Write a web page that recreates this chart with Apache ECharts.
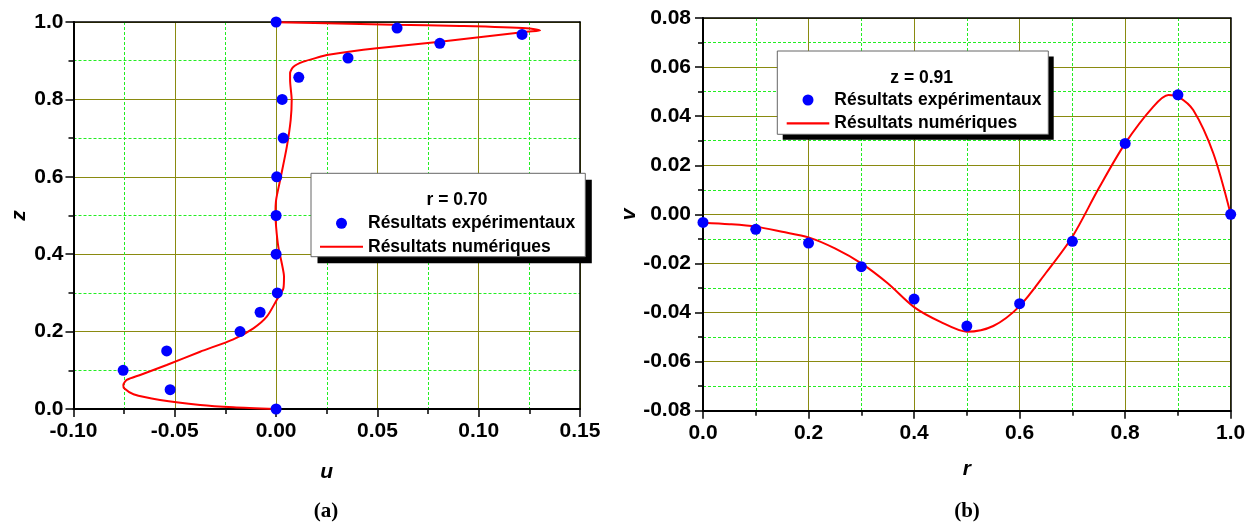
<!DOCTYPE html>
<html>
<head>
<meta charset="utf-8">
<script src="https://cdn.jsdelivr.net/npm/echarts@6/dist/echarts.min.js"></script>
<style>
html,body{margin:0;padding:0;background:#fff;}
#chart{width:1256px;height:527px;}
</style>
</head>
<body>
<div id="chart"></div>
<script>
// ---------- Panel (a): u vs z at r = 0.70 ----------
const uTicks = [-0.10, -0.05, 0.00, 0.05, 0.10, 0.15];
const zTicks = [0.0, 0.2, 0.4, 0.6, 0.8, 1.0];
const expU = [0, -0.0523, -0.0755, -0.054, -0.0178, -0.0079, 0.0006, 0, 0, 0.0003, 0.0035, 0.003, 0.0112, 0.0355, 0.0808, 0.1214, 0.0597, 0];
const expZ = [0, 0.05, 0.10, 0.15, 0.20, 0.25, 0.30, 0.40, 0.50, 0.60, 0.70, 0.80, 0.857, 0.907, 0.945, 0.968, 0.9845, 1.0];
const numU = [0, -0.0211, -0.0375, -0.0573, -0.0704, -0.075, -0.0754, -0.0737, -0.0671, -0.054, -0.0375, -0.0211, -0.0112, -0.0046, 0.0003, 0.0036, 0.0039, 0.0028, 0.0011, 0, -0.0003, 0, 0.002, 0.0053, 0.0072, 0.0077, 0.0069, 0.0069, 0.0086, 0.0135, 0.0217, 0.025, 0.0497, 0.0809, 0.1237, 0.1303, 0.1237, 0.0908, 0.0579, 0.025, 0.0003, 0];
const numZ = [0, 0.0043, 0.0103, 0.0233, 0.038, 0.0534, 0.062, 0.075, 0.0879, 0.1137, 0.148, 0.18, 0.2085, 0.2385, 0.2817, 0.312, 0.342, 0.3765, 0.419, 0.471, 0.5057, 0.54, 0.5917, 0.678, 0.7468, 0.7984, 0.85, 0.8674, 0.8846, 0.8975, 0.910, 0.915, 0.932, 0.949, 0.975, 0.978, 0.984, 0.9897, 0.993, 0.9966, 0.9992, 1.0];

// ---------- Panel (b): r vs v at z = 0.91 ----------
const rTicks = [0.0, 0.2, 0.4, 0.6, 0.8, 1.0];
const vTicks = [-0.08, -0.06, -0.04, -0.02, 0.00, 0.02, 0.04, 0.06, 0.08];
const expR = [0, 0.1, 0.2, 0.3, 0.4, 0.5, 0.6, 0.7, 0.8, 0.9, 1.0];
const expV = [-0.0033, -0.0061, -0.0117, -0.0213, -0.0345, -0.0455, -0.0364, -0.011, 0.0289, 0.0487, 0];
const numR = [0, 0.05, 0.1, 0.15, 0.2, 0.25, 0.3, 0.35, 0.4, 0.45, 0.5, 0.55, 0.6, 0.65, 0.7, 0.75, 0.8, 0.853, 0.882, 0.901, 0.929, 0.967, 1.0];
const numV = [-0.0034, -0.0040, -0.0050, -0.0071, -0.0094, -0.0139, -0.0200, -0.0281, -0.0378, -0.0438, -0.0478, -0.0455, -0.0374, -0.0238, -0.0091, 0.0106, 0.0289, 0.0438, 0.0486, 0.0479, 0.0425, 0.0249, 0];

const NAME_EXP = 'Résultats expérimentaux';
const NAME_NUM = 'Résultats numériques';
const TITLE_A = 'r = 0.70';
const TITLE_B = 'z = 0.91';

const FONT = 'Liberation Sans, Arial, sans-serif';
const zip = (a, b) => a.map((v, i) => [v, b[i]]);

function mainAxis(ticks, grid, pos, digits, margin, name, nameGap) {
  return {
    type: 'value', gridIndex: grid, position: pos,
    min: ticks[0], max: ticks[ticks.length - 1],
    interval: +(ticks[1] - ticks[0]).toFixed(6),
    name: name, nameLocation: 'middle', nameGap: nameGap,
    nameRotate: (pos === 'left') ? 90 : 0,
    nameTextStyle: {fontFamily: FONT, fontWeight: 'bold', fontStyle: 'italic', fontSize: 21, color: '#000'},
    axisLine: {show: true, onZero: false, lineStyle: {color: '#000', width: 2}},
    axisTick: {show: true, length: 8, lineStyle: {color: '#000', width: 1.5}},
    minorTick: {show: true, splitNumber: 2, length: 5, lineStyle: {color: '#000', width: 1.5}},
    splitLine: {show: true, lineStyle: {color: '#8a8a10', width: 1}},
    minorSplitLine: {show: true, lineStyle: {color: '#22ee22', width: 1, type: [3, 2]}},
    axisLabel: {
      fontFamily: FONT, fontWeight: 'bold', fontSize: 21, color: '#000', margin: margin,
      formatter: v => v.toFixed(digits)
    }
  };
}
function frameAxis(ticks, grid, pos) {
  return {
    type: 'value', gridIndex: grid, position: pos,
    min: ticks[0], max: ticks[ticks.length - 1],
    axisLine: {show: true, onZero: false, lineStyle: {color: '#000', width: 1.5}},
    axisTick: {show: false}, axisLabel: {show: false}, splitLine: {show: false}
  };
}

const legendText = {fontFamily: FONT, fontWeight: 'bold', fontSize: 17.5, color: '#000', lineHeight: 20};
const legendData = [
  {name: NAME_EXP, icon: 'circle', itemStyle: {color: '#0000ff', opacity: 1}},
  {name: NAME_NUM, icon: 'path://M0,0 L40,0 L40,2 L0,2 Z', itemStyle: {color: '#ff0000', opacity: 1}}
];

const option = {
  backgroundColor: '#fff',
  animation: false,
  grid: [
    {left: 73.5, top: 22, width: 506.5, height: 387},
    {left: 703, top: 18, width: 527.7, height: 392.7}
  ],
  xAxis: [
    mainAxis(uTicks, 0, 'bottom', 2, 12, 'u', 53),
    frameAxis(uTicks, 0, 'top'),
    mainAxis(rTicks, 1, 'bottom', 1, 12, 'r', 48),
    frameAxis(rTicks, 1, 'top')
  ],
  yAxis: [
    mainAxis(zTicks, 0, 'left', 1, 10, 'z', 44),
    frameAxis(zTicks, 0, 'right'),
    mainAxis(vTicks, 1, 'left', 2, 12, 'v', 63),
    frameAxis(vTicks, 1, 'right')
  ],
  legend: [
    {
      left: 320, top: 213.3, orient: 'vertical', itemGap: 3.4, padding: 0,
      itemWidth: 43, itemHeight: 11, z: 20, selectedMode: false,
      data: legendData, textStyle: legendText
    },
    {
      left: 786.7, top: 90, orient: 'vertical', itemGap: 3.4, padding: 0,
      itemWidth: 42.6, itemHeight: 11, z: 20, selectedMode: false,
      data: legendData, textStyle: legendText
    }
  ],
  graphic: [
    {type: 'rect', z: 10, shape: {x: 317.5, y: 179.8, width: 274.3, height: 83.4}, style: {fill: '#000'}},
    {type: 'rect', z: 11, shape: {x: 311, y: 173.3, width: 274.3, height: 83.4}, style: {fill: '#fff', stroke: '#666', lineWidth: 1}},
    {type: 'text', z: 12, x: 457, y: 200, style: {text: TITLE_A, font: 'bold 17.5px ' + FONT, fill: '#000', align: 'center', verticalAlign: 'middle'}},
    {type: 'rect', z: 10, shape: {x: 782.7, y: 56.5, width: 271, height: 83.3}, style: {fill: '#000'}},
    {type: 'rect', z: 11, shape: {x: 777.3, y: 51, width: 271, height: 83.3}, style: {fill: '#fff', stroke: '#666', lineWidth: 1}},
    {type: 'text', z: 12, x: 921.7, y: 78, style: {text: TITLE_B, font: 'bold 17.5px ' + FONT, fill: '#000', align: 'center', verticalAlign: 'middle'}},
    {type: 'text', z: 12, x: 326, y: 512, style: {text: '(a)', font: 'bold 21px Liberation Serif, Times New Roman, serif', fill: '#000', align: 'center', verticalAlign: 'middle'}},
    {type: 'text', z: 12, x: 967, y: 512, style: {text: '(b)', font: 'bold 21px Liberation Serif, Times New Roman, serif', fill: '#000', align: 'center', verticalAlign: 'middle'}}
  ],
  series: [
    {name: NAME_NUM, type: 'line', xAxisIndex: 0, yAxisIndex: 0, data: zip(numU, numZ), symbol: 'none', smooth: 0.25, z: 3,
      lineStyle: {color: '#ff0000', width: 2}, itemStyle: {color: '#ff0000'}},
    {name: NAME_EXP, type: 'scatter', xAxisIndex: 0, yAxisIndex: 0, data: zip(expU, expZ), symbol: 'circle', symbolSize: 11, z: 4,
      itemStyle: {color: '#0000ff', opacity: 1}},
    {name: NAME_NUM, type: 'line', xAxisIndex: 2, yAxisIndex: 2, data: zip(numR, numV), symbol: 'none', smooth: 0.3, z: 3,
      lineStyle: {color: '#ff0000', width: 2}, itemStyle: {color: '#ff0000'}},
    {name: NAME_EXP, type: 'scatter', xAxisIndex: 2, yAxisIndex: 2, data: zip(expR, expV), symbol: 'circle', symbolSize: 11, z: 4,
      itemStyle: {color: '#0000ff', opacity: 1}}
  ]
};

const chart = echarts.init(document.getElementById('chart'), null, {renderer: 'canvas'});
chart.setOption(option);
</script>
</body>
</html>
